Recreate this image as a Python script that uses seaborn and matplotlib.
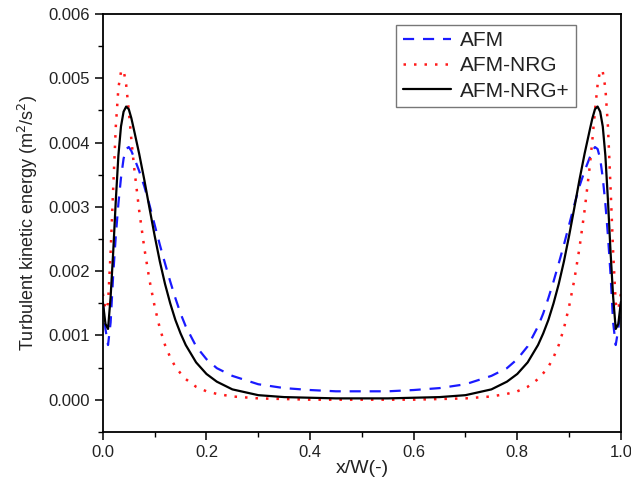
import matplotlib
matplotlib.use("Agg")
import matplotlib.pyplot as plt
import seaborn as sns
import pandas as pd
from matplotlib.ticker import MultipleLocator

# ---- data ----
x_pos = [0.000, 0.005, 0.010, 0.015, 0.020, 0.025, 0.030, 0.035, 0.040, 0.045,
         0.050, 0.055, 0.060, 0.070, 0.080, 0.090, 0.100, 0.110, 0.120, 0.130,
         0.140, 0.150, 0.160, 0.180, 0.200, 0.220, 0.250, 0.300, 0.350, 0.400,
         0.450, 0.500, 0.550, 0.600, 0.650, 0.700, 0.750, 0.780, 0.800, 0.820,
         0.840, 0.850, 0.860, 0.870, 0.880, 0.890, 0.900, 0.910, 0.920, 0.930,
         0.940, 0.945, 0.950, 0.955, 0.960, 0.965, 0.970, 0.975, 0.980, 0.985,
         0.990, 0.995, 1.000]

afm = [0.00150, 0.00110, 0.00085, 0.00120, 0.00195, 0.00255, 0.00305, 0.00345, 0.00375, 0.00390,
       0.00393, 0.00387, 0.00377, 0.00356, 0.00332, 0.00303, 0.00272, 0.00241, 0.00212, 0.00184,
       0.00158, 0.00134, 0.00114, 0.00083, 0.00063, 0.00049, 0.00037, 0.00024, 0.00018, 0.00015,
       0.00013, 0.00013, 0.00013, 0.00015, 0.00018, 0.00024, 0.00037, 0.00049, 0.00063, 0.00083,
       0.00114, 0.00134, 0.00158, 0.00184, 0.00212, 0.00241, 0.00272, 0.00303, 0.00332, 0.00356,
       0.00377, 0.00387, 0.00393, 0.00390, 0.00375, 0.00345, 0.00305, 0.00255, 0.00195, 0.00120,
       0.00085, 0.00110, 0.00150]

afm_nrg = [0.00165, 0.00140, 0.00150, 0.00230, 0.00330, 0.00425, 0.00485, 0.00510, 0.00513, 0.00490,
           0.00450, 0.00405, 0.00364, 0.00295, 0.00236, 0.00186, 0.00145, 0.00111, 0.00085, 0.00066,
           0.00051, 0.00041, 0.00032, 0.00020, 0.00013, 0.00009, 0.00005, 0.00002, 0.00001, 0.00000,
           0.00000, 0.00000, 0.00000, 0.00000, 0.00001, 0.00002, 0.00005, 0.00009, 0.00013, 0.00020,
           0.00032, 0.00041, 0.00051, 0.00066, 0.00085, 0.00111, 0.00145, 0.00186, 0.00236, 0.00295,
           0.00364, 0.00405, 0.00450, 0.00490, 0.00513, 0.00510, 0.00485, 0.00425, 0.00330, 0.00230,
           0.00150, 0.00140, 0.00165]

afm_nrg_plus = [0.00152, 0.00118, 0.00110, 0.00160, 0.00230, 0.00310, 0.00380, 0.00425, 0.00448, 0.00456,
                0.00452, 0.00438, 0.00420, 0.00383, 0.00342, 0.00298, 0.00255, 0.00215, 0.00180, 0.00150,
                0.00124, 0.00103, 0.00085, 0.00058, 0.00040, 0.00028, 0.00016, 0.00007, 0.00004, 0.00003,
                0.00002, 0.00002, 0.00002, 0.00003, 0.00004, 0.00007, 0.00016, 0.00028, 0.00040, 0.00058,
                0.00085, 0.00103, 0.00124, 0.00150, 0.00180, 0.00215, 0.00255, 0.00298, 0.00342, 0.00383,
                0.00420, 0.00438, 0.00452, 0.00456, 0.00448, 0.00425, 0.00380, 0.00310, 0.00230, 0.00160,
                0.00110, 0.00118, 0.00152]

labels = ["AFM", "AFM-NRG", "AFM-NRG+"]
x_ticks = [0.0, 0.2, 0.4, 0.6, 0.8, 1.0]
y_ticks = [0.000, 0.001, 0.002, 0.003, 0.004, 0.005, 0.006]

df = pd.DataFrame({"x": x_pos * 3,
                   "k": afm + afm_nrg + afm_nrg_plus,
                   "model": [labels[0]] * len(x_pos) + [labels[1]] * len(x_pos) + [labels[2]] * len(x_pos)})

sns.set_style("ticks")
plt.rcParams["font.family"] = ["Liberation Sans", "DejaVu Sans"]

fig = plt.figure(figsize=(6.31, 4.83), dpi=100)
ax = fig.add_axes([0.163, 0.106, 0.821, 0.865])

styles = {
    "AFM": dict(color="#1a1aff", linestyle=(0, (5, 4)), linewidth=1.6),
    "AFM-NRG": dict(color="#ff1a1a", linestyle=(0, (1, 3.2)), linewidth=1.8),
    "AFM-NRG+": dict(color="black", linestyle="-", linewidth=1.6),
}
for lab in labels:
    sub = df[df["model"] == lab]
    sns.lineplot(data=sub, x="x", y="k", ax=ax, label=lab, sort=True,
                 estimator=None, **styles[lab])

ax.set_xlim(0, 1.0)
ax.set_ylim(-0.0005, 0.006)
ax.set_xticks(x_ticks)
ax.set_xticklabels([f"{v:.1f}" for v in x_ticks])
ax.set_yticks(y_ticks)
ax.set_yticklabels([f"{v:.3f}" for v in y_ticks])
ax.xaxis.set_minor_locator(MultipleLocator(0.1))
ax.yaxis.set_minor_locator(MultipleLocator(0.0005))
ax.tick_params(which="major", direction="out", length=6, width=1.1, labelsize=12,
               colors="black", labelcolor="#222222")
ax.tick_params(which="minor", direction="out", length=3.5, width=1.0, colors="black")
ax.tick_params(top=False, right=False, which="both")
for sp in ax.spines.values():
    sp.set_visible(True)
    sp.set_linewidth(1.3)
    sp.set_color("black")

ax.set_xlabel("x/W(-)", fontsize=14, color="#222222", labelpad=0)
ax.set_ylabel("Turbulent kinetic energy (m$^2$/s$^2$)", fontsize=13, color="#222222", labelpad=6)

leg = ax.legend(loc="upper right", bbox_to_anchor=(0.913, 0.974), borderaxespad=0,
                fontsize=15, frameon=True, fancybox=False, edgecolor="#555555",
                handlelength=2.3, borderpad=0.3, labelspacing=0.3, handletextpad=0.45)
leg.get_frame().set_linewidth(1.0)
for t in leg.get_texts():
    t.set_color("#222222")

fig.savefig("out.png", dpi=100)
